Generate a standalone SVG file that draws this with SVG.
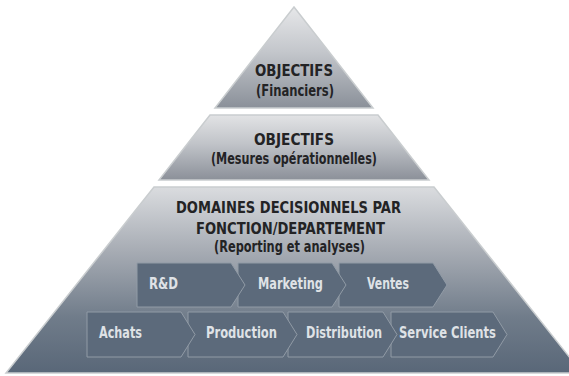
<svg xmlns="http://www.w3.org/2000/svg" width="569" height="376" viewBox="0 0 569 376">
  <defs>
    <linearGradient id="gTop" gradientUnits="userSpaceOnUse" x1="0" y1="7" x2="0" y2="108">
      <stop offset="0" stop-color="#e6e7e9"/>
      <stop offset="0.45" stop-color="#c3c6cb"/>
      <stop offset="1" stop-color="#8a9099"/>
    </linearGradient>
    <linearGradient id="gMid" gradientUnits="userSpaceOnUse" x1="0" y1="115" x2="0" y2="180">
      <stop offset="0" stop-color="#e2e3e5"/>
      <stop offset="0.45" stop-color="#c0c3c8"/>
      <stop offset="1" stop-color="#8b9099"/>
    </linearGradient>
    <linearGradient id="gBot" gradientUnits="userSpaceOnUse" x1="0" y1="187" x2="0" y2="373">
      <stop offset="0" stop-color="#dadcdf"/>
      <stop offset="0.35" stop-color="#a6abb3"/>
      <stop offset="0.7" stop-color="#707c8a"/>
      <stop offset="1" stop-color="#596778"/>
    </linearGradient>
  </defs>
  <style>
    .band { stroke: #c9cdcf; stroke-width: 1.5; stroke-linejoin: miter; }
    .title { font-family: "Liberation Sans Narrow", "DejaVu Sans Condensed", "Liberation Sans", sans-serif; font-weight: bold; font-size: 15px; fill: #232325; font-stretch: condensed; }
    .chev { fill: #5c6a7b; stroke: #919ba6; stroke-width: 1; }
    .clabel { font-family: "Liberation Sans Narrow", "DejaVu Sans Condensed", "Liberation Sans", sans-serif; font-weight: bold; font-size: 15px; fill: #dfe2e6; font-stretch: condensed; }
  </style>
  <rect width="569" height="376" fill="#ffffff"/>

  <g id="level-financiers">
    <polygon class="band" fill="url(#gTop)" points="294,7 373,108 215,108"/>
    <text class="title" x="294" y="76" text-anchor="middle" textLength="78" lengthAdjust="spacingAndGlyphs">OBJECTIFS</text>
    <text class="title" x="295" y="96" text-anchor="middle" textLength="78" lengthAdjust="spacingAndGlyphs">(Financiers)</text>
  </g>

  <g id="level-operationnelles">
    <polygon class="band" fill="url(#gMid)" points="210,115 378,115 429,180 159,180"/>
    <text class="title" x="294" y="145" text-anchor="middle" textLength="80" lengthAdjust="spacingAndGlyphs">OBJECTIFS</text>
    <text class="title" x="294" y="164" text-anchor="middle" textLength="166" lengthAdjust="spacingAndGlyphs">(Mesures opérationnelles)</text>
  </g>

  <g id="level-domaines">
    <polygon class="band" fill="url(#gBot)" points="154,187 434,187 582,373 6,373"/>
    <text class="title" x="288.5" y="213" text-anchor="middle" textLength="225" lengthAdjust="spacingAndGlyphs">DOMAINES DECISIONNELS PAR</text>
    <text class="title" x="290.5" y="234" text-anchor="middle" textLength="189" lengthAdjust="spacingAndGlyphs">FONCTION/DEPARTEMENT</text>
    <text class="title" x="289.5" y="252" text-anchor="middle" textLength="151" lengthAdjust="spacingAndGlyphs">(Reporting et analyses)</text>
  </g>

  <g id="connectors"></g>

  <!-- row 1 (drawn right to left so earlier tips overlap later boxes) -->
  <g id="node-ventes">
    <polygon class="chev" points="339,263 433,263 447,285 433,307 339,307"/>
    <text class="clabel" x="367" y="289" textLength="42" lengthAdjust="spacingAndGlyphs">Ventes</text>
  </g>
  <g id="node-marketing">
    <polygon class="chev" points="238,263 332,263 346,285 332,307 238,307"/>
    <text class="clabel" x="258" y="289" textLength="65" lengthAdjust="spacingAndGlyphs">Marketing</text>
  </g>
  <g id="node-rd">
    <polygon class="chev" points="137,263 231,263 245,285 231,307 137,307"/>
    <text class="clabel" x="149" y="289" textLength="29" lengthAdjust="spacingAndGlyphs">R&amp;D</text>
  </g>

  <!-- row 2 -->
  <g id="node-service-clients">
    <polygon class="chev" points="391,312 493,312 507,334.5 493,357 391,357"/>
    <text class="clabel" x="399" y="338" textLength="97" lengthAdjust="spacingAndGlyphs">Service Clients</text>
  </g>
  <g id="node-distribution">
    <polygon class="chev" points="288,312 383,312 397,334.5 383,357 288,357"/>
    <text class="clabel" x="306" y="338" textLength="76" lengthAdjust="spacingAndGlyphs">Distribution</text>
  </g>
  <g id="node-production">
    <polygon class="chev" points="188,312 283,312 297,334.5 283,357 188,357"/>
    <text class="clabel" x="206" y="338" textLength="71" lengthAdjust="spacingAndGlyphs">Production</text>
  </g>
  <g id="node-achats">
    <polygon class="chev" points="87,312 181,312 195,334.5 181,357 87,357"/>
    <text class="clabel" x="99" y="338" textLength="43" lengthAdjust="spacingAndGlyphs">Achats</text>
  </g>
</svg>
